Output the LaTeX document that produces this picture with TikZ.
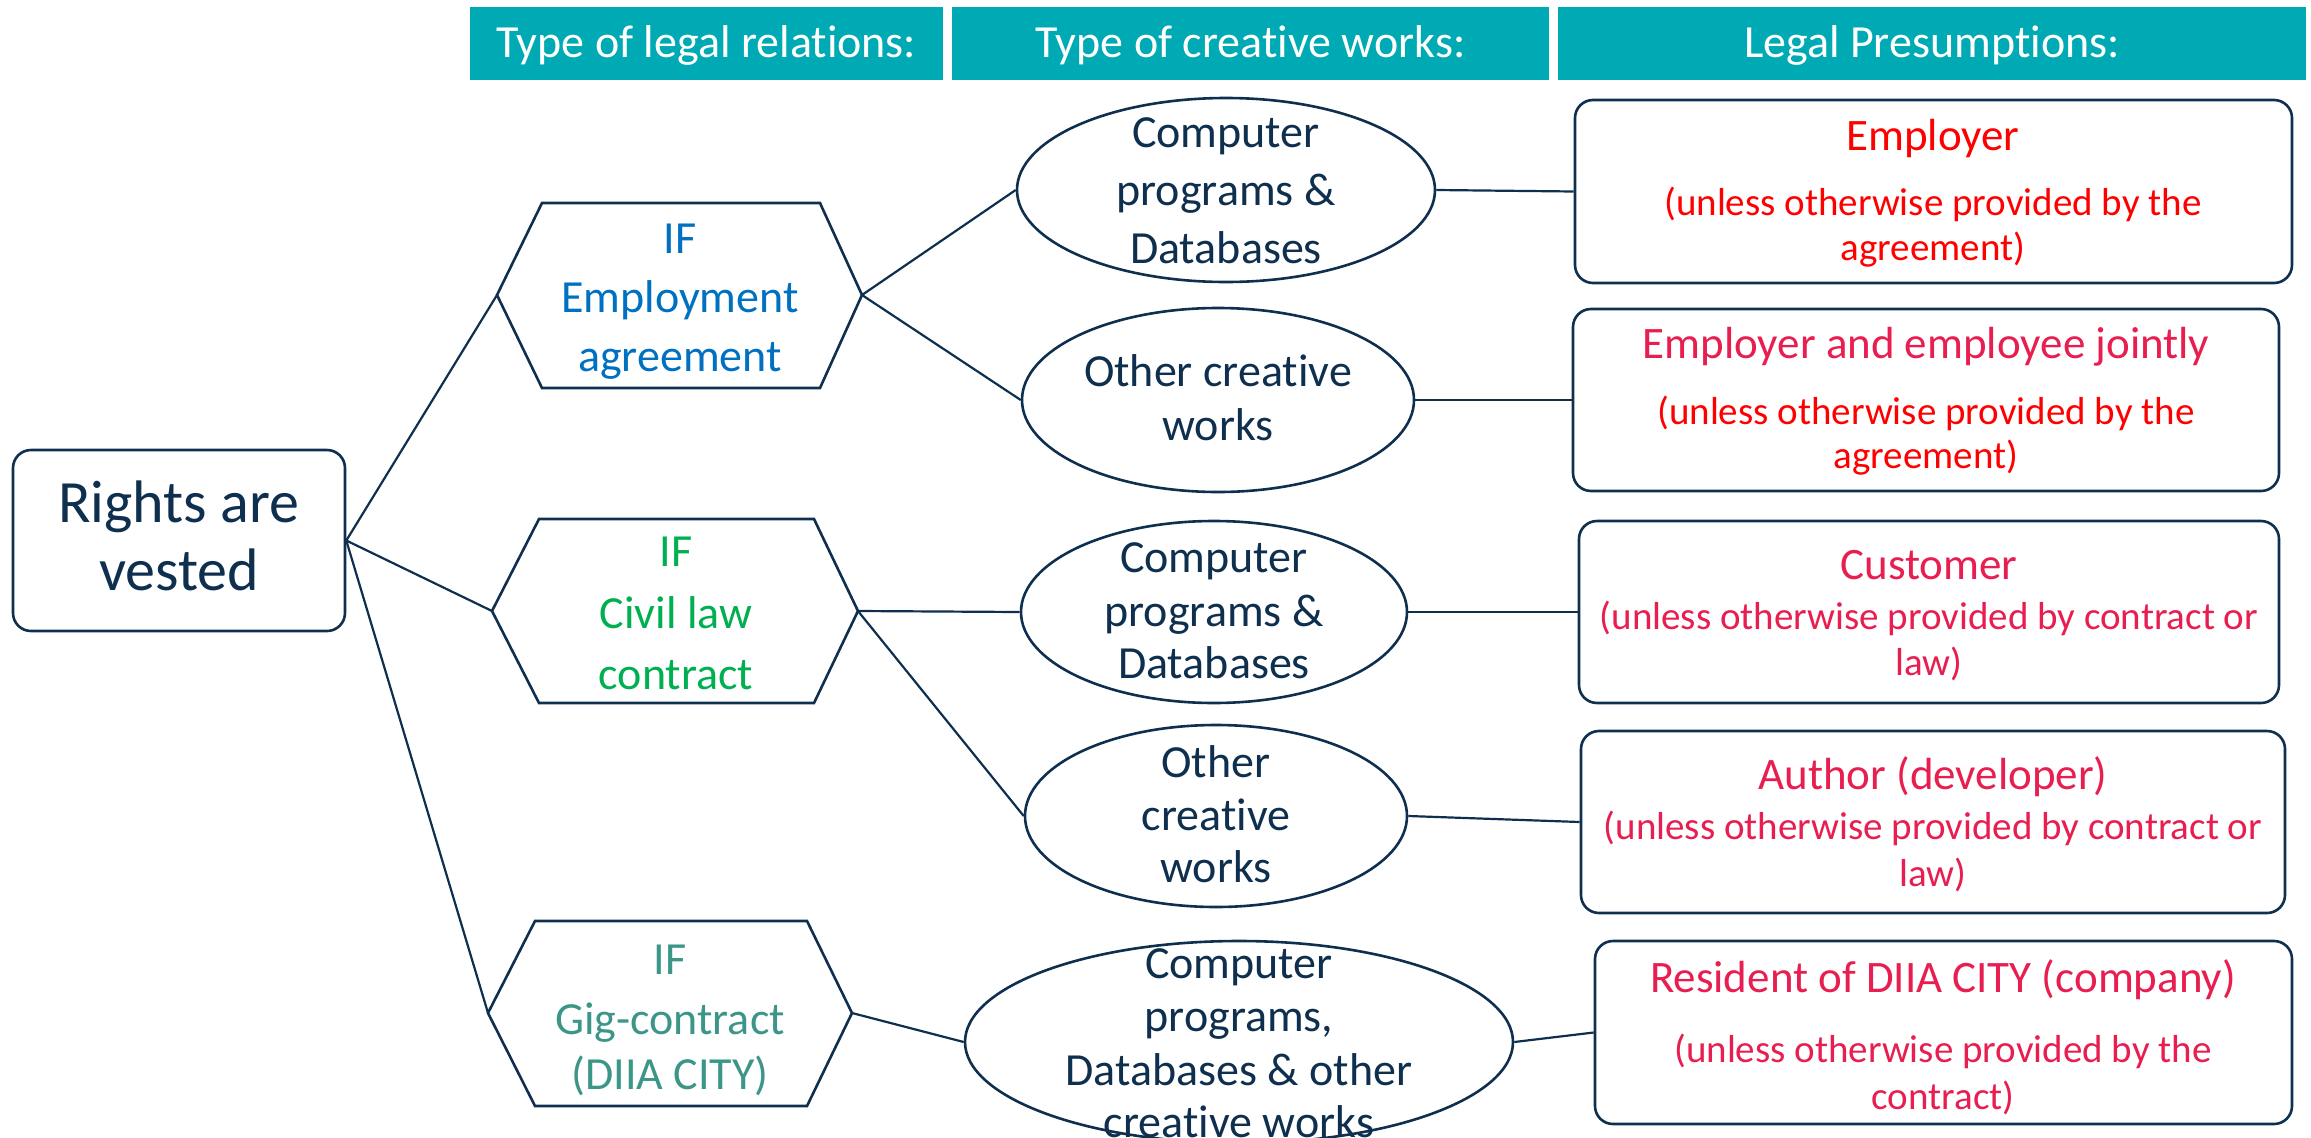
\documentclass[tikz,border=0pt]{standalone}
\usepackage{fontspec}
\setmainfont{Carlito}[Ligatures=NoCommon]
\usetikzlibrary{shapes.geometric}
\definecolor{navy}{RGB}{14,47,78}
\definecolor{hdrteal}{RGB}{0,170,181}
\definecolor{ifblue}{RGB}{0,112,192}
\definecolor{ifgreen}{RGB}{0,176,80}
\definecolor{gigteal}{RGB}{60,150,135}
\definecolor{crim}{RGB}{232,30,80}
\definecolor{pured}{RGB}{255,0,0}
\newcommand\myfs[1]{\fontsize{#1}{#1}\selectfont}
\begin{document}
\begin{tikzpicture}[x=1pt,y=-1pt,
  shp/.style={draw=navy, line width=2.6pt},
  conn/.style={draw=navy, line width=2.2pt},
  ln/.style={inner sep=0pt, text depth=0pt, anchor=center},
  hdr/.style={fill=hdrteal, draw=none, inner sep=0pt, minimum height=73pt, text=white, font=\myfs{46}, text height=28.5pt, text depth=0pt},
  rbox/.style={shp, rounded corners=18pt, inner sep=0pt},
  ell/.style={shp, ellipse, inner sep=0pt},
  eltext/.style={ln, text=navy, font=\myfs{46}, text height=28.5pt},
  hxtext/.style={ln, font=\myfs{46}, text height=28.5pt},
  ttl/.style={ln, font=\myfs{45}, text height=28pt},
  sub/.style={ln, font=\myfs{39}, text height=24pt},
  big/.style={ln, text=navy, font=\myfs{60}, text height=37pt}
]
\useasboundingbox (0,0) rectangle (2311,1138);

% header bars
\node[hdr, minimum width=473pt] (hb1) at (706.5,43.5) {Type of legal relations:};
\node[hdr, minimum width=597pt] (hb2) at (1250.5,43.5) {Type of creative works:};
\node[hdr, minimum width=748pt] (hb3) at (1932,43.5) {Legal Presumptions:};

% root
\node[rbox, minimum width=332pt, minimum height=181pt] (root) at (179,540.5) {};
\node[big] (rt1) at (179,504) {Rights are};
\node[big] (rt2) at (179,572) {vested};

% hexagons
\coordinate (h1w) at (497,295); \coordinate (h1e) at (862,295);
\draw[shp] (h1w) -- (542,203) -- (820,203) -- (h1e) -- (820,388) -- (542,388) -- cycle;
\node[hxtext, text=ifblue] (h1a) at (680,239) {IF};
\node[hxtext, text=ifblue] (h1b) at (680,298) {Employment};
\node[hxtext, text=ifblue] (h1c) at (680,357) {agreement};

\coordinate (h2w) at (492,611); \coordinate (h2e) at (858,611);
\draw[shp] (h2w) -- (539,519) -- (814,519) -- (h2e) -- (814,703) -- (539,703) -- cycle;
\node[hxtext, text=ifgreen] (h2a) at (676,552) {IF};
\node[hxtext, text=ifgreen] (h2b) at (676,614) {Civil law};
\node[hxtext, text=ifgreen] (h2c) at (676,675) {contract};

\coordinate (h3w) at (488,1013); \coordinate (h3e) at (852,1013);
\draw[shp] (h3w) -- (535,921) -- (807,921) -- (h3e) -- (807,1106) -- (535,1106) -- cycle;
\node[hxtext, text=gigteal] (h3a) at (670,960) {IF};
\node[hxtext, text=gigteal] (h3b) at (670,1020) {Gig-contract};
\node[hxtext, text=gigteal] (h3c) at (670,1075) {(DIIA CITY)};

% ellipses
\node[ell, minimum width=418pt, minimum height=184pt] (e1) at (1226,190) {};
\node[eltext] (e1a) at (1226,133) {Computer};
\node[eltext] (e1b) at (1226,191) {programs \&};
\node[eltext] (e1c) at (1226,249) {Databases};

\node[ell, minimum width=392pt, minimum height=184pt] (e2) at (1218,400) {};
\node[eltext] (e2a) at (1218,372) {Other creative};
\node[eltext] (e2b) at (1218,426) {works};

\node[ell, minimum width=386pt, minimum height=182pt] (e3) at (1214,612) {};
\node[eltext] (e3a) at (1214,558) {Computer};
\node[eltext] (e3b) at (1214,612) {programs \&};
\node[eltext] (e3c) at (1214,664) {Databases};

\node[ell, minimum width=382pt, minimum height=182pt] (e4) at (1216,816) {};
\node[eltext] (e4a) at (1216,763) {Other};
\node[eltext] (e4b) at (1216,816) {creative};
\node[eltext] (e4c) at (1216,868) {works};

\node[ell, minimum width=548pt, minimum height=202pt] (e5) at (1239,1042) {};
\node[eltext] (e5a) at (1239,964) {Computer};
\node[eltext] (e5b) at (1239,1017) {programs,};
\node[eltext] (e5c) at (1239,1071) {Databases \& other};
\node[eltext] (e5d) at (1239,1123) {creative works};

% result boxes
\node[rbox, minimum width=717pt, minimum height=183pt] (r1) at (1933.5,191.5) {};
\node[ttl, text=pured] (r1a) at (1933,136) {Employer};
\node[sub, text=pured] (r1b) at (1933,203) {(unless otherwise provided by the};
\node[sub, text=pured] (r1c) at (1933,248) {agreement)};

\node[rbox, minimum width=706pt, minimum height=182pt] (r2) at (1926,400) {};
\node[ttl, text=crim] (r2a) at (1926,344) {Employer and employee jointly};
\node[sub, text=pured] (r2b) at (1926,412) {(unless otherwise provided by the};
\node[sub, text=pured] (r2c) at (1926,456) {agreement)};

\node[rbox, minimum width=700pt, minimum height=182pt] (r3) at (1929,612) {};
\node[ttl, text=crim] (r3a) at (1929,565) {Customer};
\node[sub, text=crim] (r3b) at (1929,617) {(unless otherwise provided by contract or};
\node[sub, text=crim] (r3c) at (1929,663) {law)};

\node[rbox, minimum width=704pt, minimum height=182pt] (r4) at (1933,822) {};
\node[ttl, text=crim] (r4a) at (1933,775) {Author (developer)};
\node[sub, text=crim] (r4b) at (1933,827) {(unless otherwise provided by contract or};
\node[sub, text=crim] (r4c) at (1933,874) {law)};

\node[rbox, minimum width=697pt, minimum height=183pt] (r5) at (1943.5,1032.5) {};
\node[ttl, text=crim] (r5a) at (1943,978) {Resident of DIIA CITY (company)};
\node[sub, text=crim] (r5b) at (1943,1050) {(unless otherwise provided by the};
\node[sub, text=crim] (r5c) at (1943,1097) {contract)};

% connectors
\draw[conn] (root.east) -- (h1w);
\draw[conn] (root.east) -- (h2w);
\draw[conn] (root.east) -- (h3w);
\draw[conn] (h1e) -- (e1.west);
\draw[conn] (h1e) -- (e2.west);
\draw[conn] (h2e) -- (e3.west);
\draw[conn] (h2e) -- (e4.west);
\draw[conn] (h3e) -- (e5.west);
\draw[conn] (e1.east) -- (r1.west);
\draw[conn] (e2.east) -- (r2.west);
\draw[conn] (e3.east) -- (r3.west);
\draw[conn] (e4.east) -- (r4.west);
\draw[conn] (e5.east) -- (r5.west);
\end{tikzpicture}
\end{document}
